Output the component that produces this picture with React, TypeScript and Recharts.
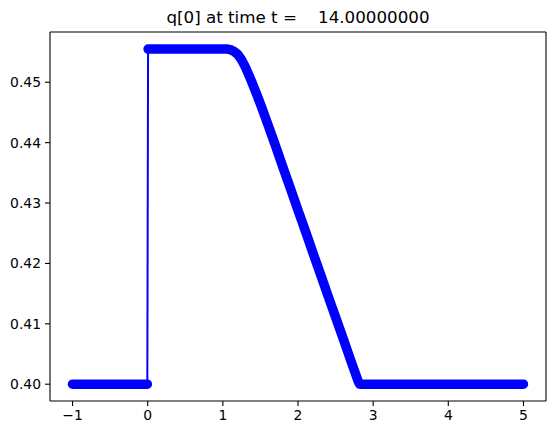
import React from 'react';
import { LineChart, Line, XAxis, YAxis, ReferenceLine } from 'recharts';

const TITLE = 'q[0] at time t =    14.00000000';

const lowX = [-1, -0.9, -0.8, -0.7, -0.6, -0.5, -0.4, -0.3, -0.2, -0.1, -0.005];
const lowY = [0.4, 0.4, 0.4, 0.4, 0.4, 0.4, 0.4, 0.4, 0.4, 0.4, 0.4];

const highX = [
  0.005, 0.1, 0.2, 0.3, 0.4, 0.5, 0.6, 0.7, 0.8, 0.9, 1.0, 1.05, 1.1, 1.15, 1.2, 1.25,
  1.3, 1.35, 1.4, 1.45, 1.5, 1.6, 1.7, 1.8, 1.9, 2.0, 2.1, 2.2, 2.3, 2.4, 2.5, 2.6,
  2.7, 2.8, 2.82, 2.9, 3.0, 3.1, 3.2, 3.3, 3.4, 3.5, 3.6, 3.7, 3.8, 3.9, 4.0, 4.1,
  4.2, 4.3, 4.4, 4.5, 4.6, 4.7, 4.8, 4.9, 5.0,
];
const highY = [
  0.4555, 0.4555, 0.4555, 0.4555, 0.4555, 0.4555, 0.4555, 0.4555, 0.4555, 0.4555, 0.4555,
  0.4555, 0.4554, 0.4551, 0.4546, 0.4537, 0.4525, 0.4511, 0.4496, 0.448, 0.4464, 0.443,
  0.4395, 0.4359, 0.4324, 0.4288, 0.4253, 0.4217, 0.4182, 0.4146, 0.4111, 0.4076, 0.404,
  0.4005, 0.4, 0.4, 0.4, 0.4, 0.4, 0.4, 0.4, 0.4, 0.4, 0.4, 0.4, 0.4, 0.4, 0.4, 0.4,
  0.4, 0.4, 0.4, 0.4, 0.4, 0.4, 0.4, 0.4,
];

const xTicks = [-1, 0, 1, 2, 3, 4, 5];
const yTicks = [0.4, 0.41, 0.42, 0.43, 0.44, 0.45];

const X_DOMAIN: [number, number] = [-1.3, 5.3];
const Y_DOMAIN: [number, number] = [0.39722, 0.45832];

const lowData = lowX.map((x, i) => ({ x, q: lowY[i] }));
const highData = highX.map((x, i) => ({ x, q: highY[i] }));
const allData = [...lowData, ...highData];

const FONT = 'DejaVu Sans, sans-serif';
const BLUE = '#0000ff';

const tickStyle = { fontFamily: FONT, fontSize: 13.9, fill: '#000' };

export default function App() {
  return (
    <div style={{ position: 'fixed', left: 0, top: 0, width: 556, height: 435, background: '#fff' }}>
      <div
        style={{
          position: 'absolute',
          left: 0,
          width: 596,
          top: 7,
          textAlign: 'center',
          fontFamily: FONT,
          fontSize: 16.7,
          whiteSpace: 'pre',
          color: '#000',
          lineHeight: '20px',
        }}
      >
        {TITLE}
      </div>
      <LineChart width={556} height={435} margin={{ top: 32, right: 10, left: 0, bottom: 0 }}>
        <XAxis
          xAxisId="b"
          dataKey="x"
          type="number"
          domain={X_DOMAIN}
          ticks={xTicks}
          allowDataOverflow
          height={34}
          tickSize={5}
          tickMargin={4}
          tick={tickStyle}
          axisLine={{ stroke: '#000', strokeWidth: 1.1 }}
          tickLine={{ stroke: '#000', strokeWidth: 1.1 }}
          tickFormatter={(v: number) => (v < 0 ? '\u2212' + Math.abs(v) : String(v))}
        />
        <YAxis
          yAxisId="l"
          type="number"
          domain={Y_DOMAIN}
          ticks={yTicks}
          allowDataOverflow
          width={50}
          tickSize={5}
          tickMargin={4}
          tick={tickStyle}
          axisLine={{ stroke: '#000', strokeWidth: 1.1 }}
          tickLine={{ stroke: '#000', strokeWidth: 1.1 }}
          tickFormatter={(v: number) => v.toFixed(2)}
        />
        <ReferenceLine xAxisId="b" yAxisId="l" y={Y_DOMAIN[1]} stroke="#000" strokeWidth={1.1} ifOverflow="visible" />
        <ReferenceLine xAxisId="b" yAxisId="l" x={X_DOMAIN[1]} stroke="#000" strokeWidth={1.1} ifOverflow="visible" />
        <Line
          xAxisId="b"
          yAxisId="l"
          data={allData}
          dataKey="q"
          stroke={BLUE}
          strokeWidth={2}
          dot={false}
          isAnimationActive={false}
          type="linear"
        />
        <Line
          xAxisId="b"
          yAxisId="l"
          data={lowData}
          dataKey="q"
          stroke={BLUE}
          strokeWidth={9.5}
          strokeLinecap="round"
          strokeLinejoin="round"
          dot={false}
          isAnimationActive={false}
          type="linear"
        />
        <Line
          xAxisId="b"
          yAxisId="l"
          data={highData}
          dataKey="q"
          stroke={BLUE}
          strokeWidth={9.5}
          strokeLinecap="round"
          strokeLinejoin="round"
          dot={false}
          isAnimationActive={false}
          type="linear"
        />
      </LineChart>
    </div>
  );
}
